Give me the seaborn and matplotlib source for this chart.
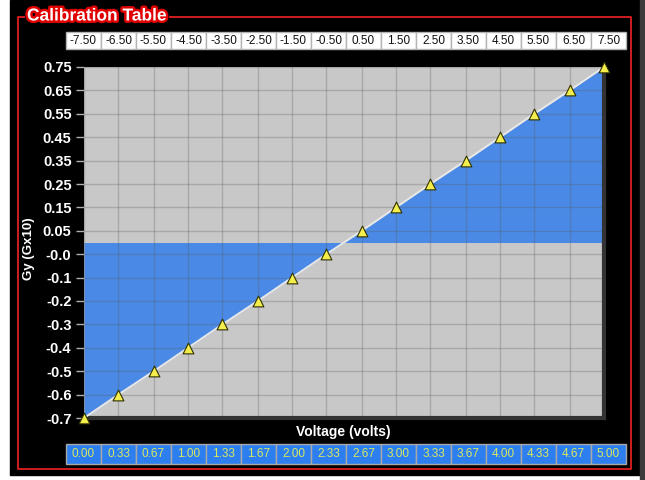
import numpy as np
import matplotlib
matplotlib.use('Agg')
import matplotlib.pyplot as plt
import matplotlib.patheffects as pe
from matplotlib.patches import Rectangle
from matplotlib.lines import Line2D
import seaborn as sns

# calibration points
voltage = [0.00, 0.33, 0.67, 1.00, 1.33, 1.67, 2.00, 2.33,
           2.67, 3.00, 3.33, 3.67, 4.00, 4.33, 4.67, 5.00]
gy = [-0.7, -0.6, -0.5, -0.4, -0.3, -0.2, -0.1, -0.0,
      0.05, 0.15, 0.25, 0.35, 0.45, 0.55, 0.65, 0.75]
gy_labels = ['-0.7', '-0.6', '-0.5', '-0.4', '-0.3', '-0.2', '-0.1', '-0.0',
             '0.05', '0.15', '0.25', '0.35', '0.45', '0.55', '0.65', '0.75']
angle_labels = ['-7.50', '-6.50', '-5.50', '-4.50', '-3.50', '-2.50', '-1.50', '-0.50',
                '0.50', '1.50', '2.50', '3.50', '4.50', '5.50', '6.50', '7.50']
volt_labels = ['0.00', '0.33', '0.67', '1.00', '1.33', '1.67', '2.00', '2.33',
               '2.67', '3.00', '3.33', '3.67', '4.00', '4.33', '4.67', '5.00']
baseline = 0.025

plt.rcParams['font.family'] = ['Liberation Sans', 'DejaVu Sans']

W, H = 645, 480
fig = plt.figure(figsize=(6.45, 4.8), dpi=100, facecolor='white')


def fx(px):
    return px / W


def fy(py):
    return 1 - py / H


# black panel + dark strip on the right
fig.patches.append(Rectangle((fx(10), fy(475)), fx(640) - fx(10), fy(0) - fy(475),
                             transform=fig.transFigure, color='black', zorder=-10))
fig.patches.append(Rectangle((fx(640), 0), fx(645) - fx(640), 1,
                             transform=fig.transFigure, color='#3c3c3c', zorder=-10))

# red frame with gap for the title
fx_pts = [170, 631, 631, 18, 18, 24]
fy_pts = [17, 17, 469, 469, 17, 17]
fig.add_artist(Line2D([fx(p) for p in fx_pts], [fy(p) for p in fy_pts],
                      transform=fig.transFigure, color='#e02020', lw=1.3))

fig.text(fx(27), fy(16), 'Calibration Table', color='white', fontsize=12.5,
         fontweight='bold', ha='left', va='center',
         path_effects=[pe.withStroke(linewidth=3.5, foreground='#e00000')])

ax = fig.add_axes([fx(84), fy(418), (604 - 84) / W, (418 - 67) / H])
ax.set_facecolor('#c8c8c8')

# y axis spaced by index, not by value
idx = np.arange(len(gy))
ax.set_yscale('function', functions=(lambda v: np.interp(v, gy, idx),
                                     lambda i: np.interp(i, idx, gy)))

ax.fill_between(voltage, gy, baseline, color='#4a8ae6', lw=0, zorder=1)
sns.lineplot(x=voltage, y=gy, ax=ax, color='#e8e8e8', lw=1.4, zorder=3)
sns.scatterplot(x=voltage, y=gy, ax=ax, marker='^', s=60, color='#f4ee4c',
                edgecolor='#303000', linewidth=0.8, zorder=5, clip_on=False)

ax.set_xlim(0, 5)
ax.set_ylim(-0.7, 0.75)
ax.set_xticks(voltage)
ax.set_xticklabels([])
ax.tick_params(axis='x', length=0)
ax.set_yticks(gy, gy_labels)
ax.tick_params(axis='y', colors='#b0b0b0', labelcolor='white', length=6,
               width=1, labelsize=10.5, pad=3)
for lab in ax.get_yticklabels():
    lab.set_fontweight('bold')
ax.grid(True, color='#555555', alpha=0.28, lw=1)
ax.set_xlabel('')
ax.set_ylabel('')

for s in ['left', 'top']:
    ax.spines[s].set_visible(False)
for s in ['right', 'bottom']:
    ax.spines[s].set_color('#333333')
    ax.spines[s].set_linewidth(3)

fig.text(fx(343.5), fy(432), 'Voltage (volts)', color='white', fontsize=10,
         fontweight='bold', ha='center', va='center')
fig.text(fx(29), fy(249), 'Gy (Gx10)', color='white', fontsize=9.5,
         fontweight='bold', ha='center', va='center', rotation=90)

# tables above and below the plot
tab_x = -18 / 520
tab_w = 560 / 520
top = ax.table(cellText=[angle_labels], cellLoc='center',
               bbox=[tab_x, (418 - 49) / 351, tab_w, 17 / 351])
top.auto_set_font_size(False)
top.set_fontsize(8.5)
for cell in top.get_celld().values():
    cell.set_facecolor('white')
    cell.set_edgecolor('#b4b4b4')
    cell.set_linewidth(1)
    cell.get_text().set_color('#111111')

bot = ax.table(cellText=[volt_labels], cellLoc='center',
               bbox=[tab_x, (418 - 464) / 351, tab_w, 20 / 351])
bot.auto_set_font_size(False)
bot.set_fontsize(8.5)
for cell in bot.get_celld().values():
    cell.set_facecolor('#2d7ff0')
    cell.set_edgecolor('#a8a8a8')
    cell.set_linewidth(1)
    cell.get_text().set_color('#d8e860')

fig.savefig('out.png', dpi=100, facecolor='white')
